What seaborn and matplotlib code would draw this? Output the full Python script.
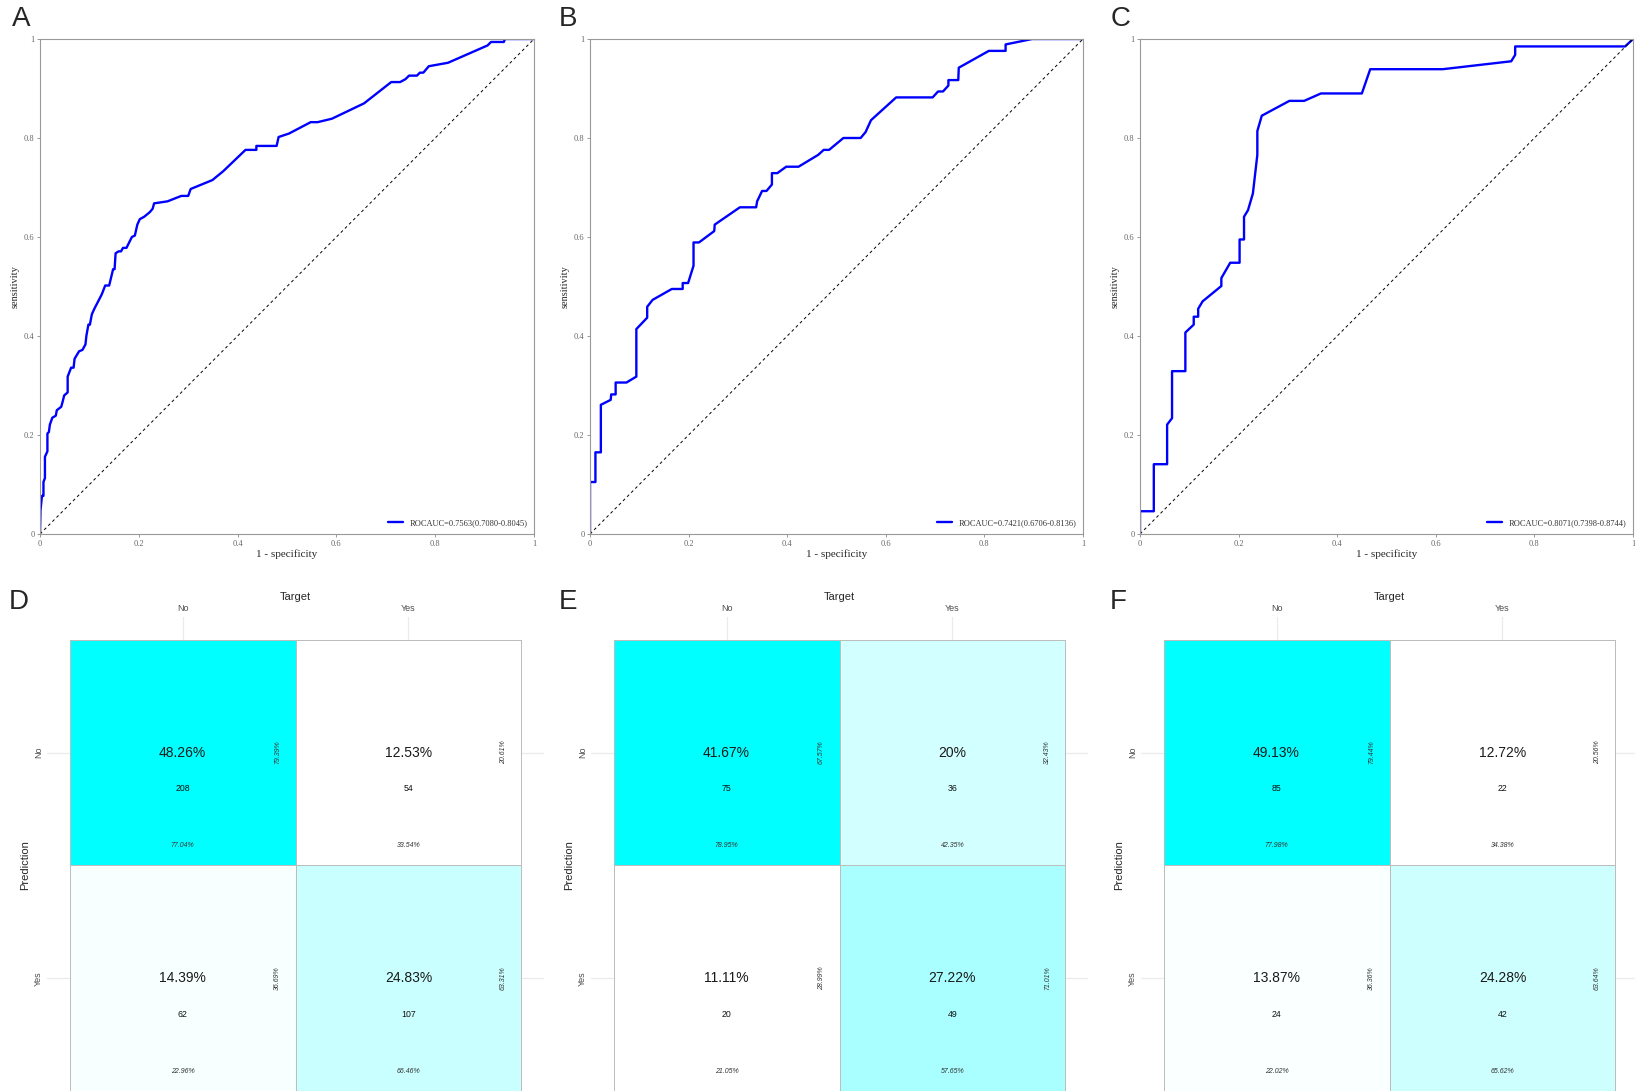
import numpy as np
import pandas as pd
import matplotlib
matplotlib.use("Agg")
import matplotlib.pyplot as plt
import seaborn as sns
from matplotlib.colors import LinearSegmentedColormap
from matplotlib.ticker import FuncFormatter

sns.set_style("white")
plt.rcParams['font.family'] = ['Liberation Sans', 'DejaVu Sans']

# ROC curves: 1 - specificity / sensitivity
roc_a_fpr = [0, 0.001, 0.004, 0.007, 0.007, 0.010, 0.010, 0.015, 0.015, 0.018, 0.020, 0.025,
             0.032, 0.034, 0.043, 0.046, 0.049, 0.056, 0.056, 0.063, 0.068, 0.070, 0.079,
             0.086, 0.092, 0.094, 0.098, 0.101, 0.105, 0.110, 0.125, 0.132, 0.140, 0.148,
             0.151, 0.153, 0.159, 0.164, 0.168, 0.175, 0.186, 0.192, 0.197, 0.202, 0.211,
             0.222, 0.228, 0.231, 0.258, 0.286, 0.300, 0.305, 0.349, 0.371, 0.416, 0.438,
             0.438, 0.479, 0.483, 0.504, 0.548, 0.562, 0.591, 0.656, 0.711, 0.729, 0.740,
             0.747, 0.763, 0.769, 0.776, 0.787, 0.826, 0.906, 0.913, 0.939, 0.941, 1.0]
roc_a_tpr = [0, 0.048, 0.077, 0.077, 0.105, 0.113, 0.156, 0.167, 0.203, 0.206, 0.221, 0.235,
             0.239, 0.250, 0.257, 0.268, 0.280, 0.286, 0.318, 0.336, 0.336, 0.354, 0.369,
             0.372, 0.383, 0.401, 0.423, 0.423, 0.444, 0.455, 0.484, 0.502, 0.502, 0.535,
             0.535, 0.567, 0.571, 0.571, 0.578, 0.578, 0.600, 0.603, 0.625, 0.636, 0.641,
             0.650, 0.657, 0.668, 0.672, 0.683, 0.683, 0.697, 0.715, 0.733, 0.776, 0.776,
             0.784, 0.784, 0.802, 0.809, 0.832, 0.832, 0.839, 0.870, 0.913, 0.913, 0.919,
             0.926, 0.926, 0.932, 0.932, 0.945, 0.952, 0.987, 0.994, 0.994, 1.0, 1.0]

roc_b_fpr = [0, 0, 0.011, 0.011, 0.022, 0.022, 0.042, 0.043, 0.052, 0.052, 0.074, 0.094,
             0.094, 0.116, 0.116, 0.127, 0.166, 0.188, 0.188, 0.199, 0.210, 0.210, 0.221,
             0.252, 0.253, 0.304, 0.337, 0.339, 0.349, 0.358, 0.369, 0.369, 0.380, 0.398,
             0.423, 0.463, 0.474, 0.485, 0.514, 0.549, 0.559, 0.570, 0.621, 0.695, 0.706,
             0.716, 0.727, 0.727, 0.747, 0.748, 0.809, 0.843, 0.843, 0.897, 1.0]
roc_b_tpr = [0, 0.105, 0.105, 0.165, 0.165, 0.261, 0.271, 0.282, 0.282, 0.306, 0.306, 0.318,
             0.414, 0.437, 0.459, 0.473, 0.495, 0.495, 0.507, 0.507, 0.542, 0.589, 0.589,
             0.612, 0.625, 0.660, 0.660, 0.672, 0.693, 0.693, 0.706, 0.729, 0.729, 0.742,
             0.742, 0.766, 0.776, 0.776, 0.800, 0.800, 0.812, 0.836, 0.882, 0.882, 0.894,
             0.894, 0.906, 0.917, 0.917, 0.942, 0.976, 0.976, 0.989, 1.0, 1.0]

roc_c_fpr = [0, 0, 0.028, 0.028, 0.055, 0.055, 0.065, 0.065, 0.092, 0.092, 0.109, 0.109,
             0.118, 0.118, 0.127, 0.165, 0.165, 0.183, 0.202, 0.202, 0.211, 0.211, 0.219,
             0.229, 0.238, 0.238, 0.247, 0.303, 0.333, 0.367, 0.450, 0.467, 0.614, 0.753,
             0.761, 0.761, 0.984, 1.0]
roc_c_tpr = [0, 0.046, 0.046, 0.141, 0.141, 0.221, 0.234, 0.329, 0.329, 0.407, 0.423, 0.439,
             0.439, 0.455, 0.470, 0.501, 0.517, 0.548, 0.548, 0.595, 0.595, 0.641, 0.654,
             0.688, 0.766, 0.814, 0.845, 0.875, 0.875, 0.890, 0.890, 0.939, 0.939, 0.955,
             0.968, 0.985, 0.985, 1.0]

roc_labels = ["ROCAUC=0.7563(0.7080-0.8045)",
              "ROCAUC=0.7421(0.6706-0.8136)",
              "ROCAUC=0.8071(0.7398-0.8744)"]

# confusion matrices: rows = prediction (No, Yes), columns = target (No, Yes)
cm_d = [[208, 54], [62, 107]]
cm_e = [[75, 36], [20, 49]]
cm_f = [[85, 22], [24, 42]]
class_labels = ["No", "Yes"]

roc_letters = ["A", "B", "C"]
cm_letters = ["D", "E", "F"]

W, H = 1635, 1091
cm_cmap = LinearSegmentedColormap.from_list(
    "white_cyan", [(0, "#FFFFFF"), (0.5, "#B2FFFF"), (1, "#00FFFF")])


def fmt_pct(v):
    """Two decimals, dropping trailing zeros like R does."""
    return f"{v:.2f}".rstrip("0").rstrip(".") + "%"


def px_axes(fig, x0, y0, x1, y1):
    """Axes from pixel box (top-left origin)."""
    return fig.add_axes([x0 / W, (H - y1) / H, (x1 - x0) / W, (y1 - y0) / H])


def draw_roc(ax, fpr, tpr, label):
    df = pd.DataFrame({"fpr": fpr, "tpr": tpr})
    sns.lineplot(data=df, x="fpr", y="tpr", ax=ax, color="#0000FF", lw=1.7,
                 sort=False, estimator=None, label=label)
    ax.plot([0, 1], [0, 1], ls=(0, (3, 3)), color="black", lw=0.7)
    ax.set_xlim(0, 1)
    ax.set_ylim(0, 1)
    ticks = [0, 0.2, 0.4, 0.6, 0.8, 1]
    ax.set_xticks(ticks)
    ax.set_yticks(ticks)
    fmt = FuncFormatter(lambda v, _: f"{v:g}")
    ax.xaxis.set_major_formatter(fmt)
    ax.yaxis.set_major_formatter(fmt)
    ax.tick_params(length=2.5, width=0.6, color="#888888", labelsize=6,
                   labelcolor="#666666", pad=1.5, bottom=True, left=True)
    for lab in ax.get_xticklabels() + ax.get_yticklabels():
        lab.set_family("Liberation Serif")
    for sp in ax.spines.values():
        sp.set_color("#999999")
        sp.set_linewidth(0.8)
    ax.set_xlabel("1 - specificity", family="Liberation Serif", fontsize=8, labelpad=1)
    ax.set_ylabel("sensitivity", family="Liberation Serif", fontsize=7.5, labelpad=3)
    leg = ax.legend(loc="lower right", frameon=False, handlelength=1.8,
                    borderaxespad=0.4, prop={"family": "Liberation Serif", "size": 6})
    for t in leg.get_texts():
        t.set_color("#333333")


def draw_cm(ax, counts):
    counts = np.array(counts)
    total = counts.sum()
    sns.heatmap(counts, ax=ax, cmap=cm_cmap, vmin=counts.min(), vmax=counts.max(),
                cbar=False, linewidths=0.5, linecolor="#BDBDBD",
                xticklabels=class_labels, yticklabels=class_labels)
    ax.set_xlim(-0.1, 2.1)
    ax.set_ylim(2.1, -0.1)
    ax.grid(True, color="#EBEBEB", lw=0.9)
    ax.set_axisbelow(True)
    for sp in ax.spines.values():
        sp.set_visible(False)
    ax.xaxis.tick_top()
    ax.xaxis.set_label_position("top")
    ax.tick_params(length=0, labelsize=6.5, labelcolor="#4D4D4D", pad=3)
    ax.set_yticklabels(class_labels, rotation=90, va="center")
    ax.set_xlabel("Target", fontsize=8, labelpad=3)
    ax.set_ylabel("Prediction", fontsize=8, labelpad=3)

    for i in range(2):
        for j in range(2):
            n = counts[i, j]
            cx, cy = j + 0.5, i + 0.5
            ax.text(cx, cy, fmt_pct(100 * n / total), ha="center", va="center",
                    fontsize=10, color="#1A1A1A")
            ax.text(cx, cy + 0.16, str(n), ha="center", va="center",
                    fontsize=6.3, color="#111111")
            ax.text(cx, cy + 0.41, fmt_pct(100 * n / counts[:, j].sum()),
                    ha="center", va="center", fontsize=5, style="italic",
                    color="#333333")
            ax.text(cx + 0.42, cy, fmt_pct(100 * n / counts[i, :].sum()),
                    ha="center", va="center", fontsize=5, style="italic",
                    rotation=90, color="#333333")


fig = plt.figure(figsize=(W / 100, H / 100), dpi=100)

# top row: ROC curves
roc_boxes = [(40, 39, 534, 534), (590, 39, 1083, 534), (1140, 39, 1633, 534)]
roc_data = [(roc_a_fpr, roc_a_tpr), (roc_b_fpr, roc_b_tpr), (roc_c_fpr, roc_c_tpr)]
letter_x = [21, 568, 1121]
for box, (fpr, tpr), lab, letter, lx in zip(roc_boxes, roc_data, roc_labels,
                                           roc_letters, letter_x):
    ax = px_axes(fig, *box)
    draw_roc(ax, fpr, tpr, lab)
    fig.text(lx / W, 1 - 19 / H, letter, fontsize=20, ha="center", va="center")

# bottom row: confusion matrices
cm_boxes = [(47, 617, 544, 1114), (591, 617, 1088, 1114), (1141, 617, 1638, 1114)]
cm_letter_x = [19, 568, 1118]
for box, counts, letter, lx in zip(cm_boxes, [cm_d, cm_e, cm_f], cm_letters, cm_letter_x):
    ax = px_axes(fig, *box)
    draw_cm(ax, counts)
    fig.text(lx / W, 1 - 602 / H, letter, fontsize=20, ha="center", va="center")

fig.savefig("out.png", dpi=100)
